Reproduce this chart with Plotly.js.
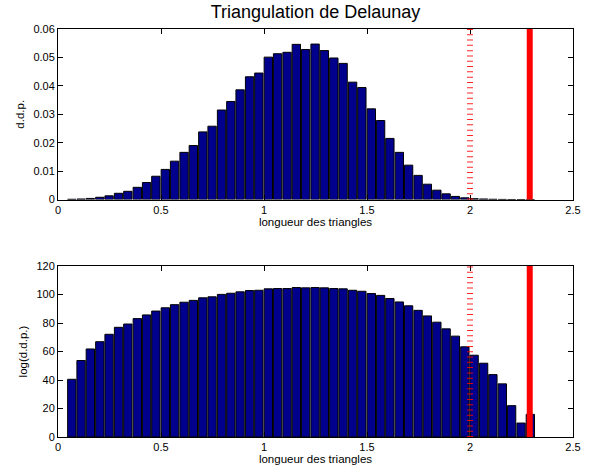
<!DOCTYPE html>
<html>
<head>
<meta charset="utf-8">
<script src="https://cdn.plot.ly/plotly-3.0.1.min.js"></script>
<style>html,body{margin:0;padding:0;background:#fff;}#chart{width:593px;height:472px;}</style>
</head>
<body>
<div id="chart"></div>
<script>
// Bin centres (longueur des triangles)
const binCenters = [0.067,0.112,0.157,0.203,0.248,0.294,0.339,0.385,0.430,0.475,
  0.521,0.566,0.612,0.657,0.703,0.748,0.794,0.839,0.884,0.930,
  0.975,1.021,1.066,1.112,1.157,1.202,1.248,1.293,1.339,1.384,
  1.430,1.475,1.521,1.566,1.611,1.657,1.702,1.748,1.793,1.839,
  1.884,1.929,1.975,2.020,2.066,2.111,2.157,2.202,2.248,2.293];
// d.d.p.
const ddp = [0.0001,0.0002,0.0004,0.0008,0.0013,0.0022,0.0029,0.0043,0.0060,0.0082,
  0.0106,0.0135,0.0166,0.0190,0.0238,0.0258,0.0315,0.0345,0.0386,0.0432,
  0.0445,0.0501,0.0513,0.0518,0.0546,0.0528,0.0547,0.0524,0.0498,0.0479,
  0.0413,0.0394,0.0319,0.0278,0.0215,0.0166,0.0121,0.0085,0.0054,0.0033,
  0.0020,0.0011,0.0006,0.0003,0.0002,0.0001,0.00005,0.00002,0,0.00001];
// log(d.d.p.)
const logddp = [40.5,53.7,61.8,66.9,72.1,77.0,79.3,83.1,85.7,88.4,
  90.7,92.9,94.6,95.9,97.7,98.4,100.1,100.9,101.9,102.8,
  103.0,104.0,104.2,104.2,104.9,104.7,104.9,104.7,104.2,104.0,
  103.0,102.3,100.7,99.4,97.2,94.8,92.1,88.9,85.0,80.6,
  75.9,70.8,63.3,57.4,51.8,43.8,37.3,22.0,9.8,15.9];
// Vertical reference lines
const dashedLineX = 2.0;
const solidLineX = 2.29;
const xTicks = [0, 0.5, 1, 1.5, 2, 2.5];
const xTickText = ['0','0.5','1','1.5','2','2.5'];
const yTicksTop = [0,0.01,0.02,0.03,0.04,0.05,0.06];
const yTickTextTop = ['0','0.01','0.02','0.03','0.04','0.05','0.06'];
const yTicksBottom = [0,20,40,60,80,100,120];
const yTickTextBottom = ['0','20','40','60','80','100','120'];

const barStyle = {color:'#00008C', line:{color:'#000000', width:1}};
const font = 'Liberation Sans, Arial, Helvetica, sans-serif';

const traces = [
  {type:'bar', x:binCenters, y:ddp, xaxis:'x', yaxis:'y', marker:barStyle, hoverinfo:'skip'},
  {type:'bar', x:binCenters, y:logddp, xaxis:'x2', yaxis:'y2', marker:barStyle, hoverinfo:'skip'}
];

function xAxis(anchor){
  return {domain:[0,1], anchor:anchor, range:[0,2.5], tickvals:xTicks, ticktext:xTickText,
    ticks:'inside', ticklen:5, tickcolor:'#000', mirror:'allticks', showline:true, linecolor:'#000', linewidth:1,
    showgrid:false, zeroline:false, tickfont:{size:11, color:'#000', family:font},
    title:{text:'longueur des triangles', font:{size:11.5, color:'#000', family:font}, standoff:2}};
}
function yAxis(anchor, dom, range, tv, tt, title){
  return {domain:dom, anchor:anchor, range:range, tickvals:tv, ticktext:tt,
    ticks:'inside', ticklen:5, tickcolor:'#000', mirror:'allticks', showline:true, linecolor:'#000', linewidth:1,
    showgrid:false, zeroline:false, tickfont:{size:11, color:'#000', family:font},
    title:{text:title, font:{size:11.5, color:'#000', family:font}, standoff:6}};
}

const shapes = [];
[['x','y'],['x2','y2']].forEach(function(ax){
  shapes.push({type:'line', xref:ax[0], yref:ax[1]+' domain', x0:dashedLineX, x1:dashedLineX, y0:0, y1:1,
    line:{color:'rgba(255,0,0,0.85)', width:6, dash:'1px,4.3px'}, layer:'above'});
  shapes.push({type:'line', xref:ax[0], yref:ax[1]+' domain', x0:solidLineX, x1:solidLineX, y0:0, y1:1,
    line:{color:'#FF0000', width:6}, layer:'above'});
});

const layout = {
  width:593, height:472,
  margin:{l:58, r:20, t:29, b:35},
  paper_bgcolor:'#fff', plot_bgcolor:'#fff',
  showlegend:false, bargap:0.1,
  font:{family:font, color:'#000'},
  title:{text:'Triangulation de Delaunay', font:{size:18, color:'#000', family:font}, xref:'paper', x:0.5, xanchor:'center', y:0.975, yanchor:'middle'},
  xaxis:xAxis('y'),
  yaxis:yAxis('x', [0.582,1], [0,0.06], yTicksTop, yTickTextTop, 'd.d.p.'),
  xaxis2:xAxis('y2'),
  yaxis2:yAxis('x2', [0,0.419], [0,120], yTicksBottom, yTickTextBottom, 'log(d.d.p.)'),
  shapes:shapes
};

Plotly.newPlot('chart', traces, layout, {staticPlot:true, displayModeBar:false});
</script>
</body>
</html>
